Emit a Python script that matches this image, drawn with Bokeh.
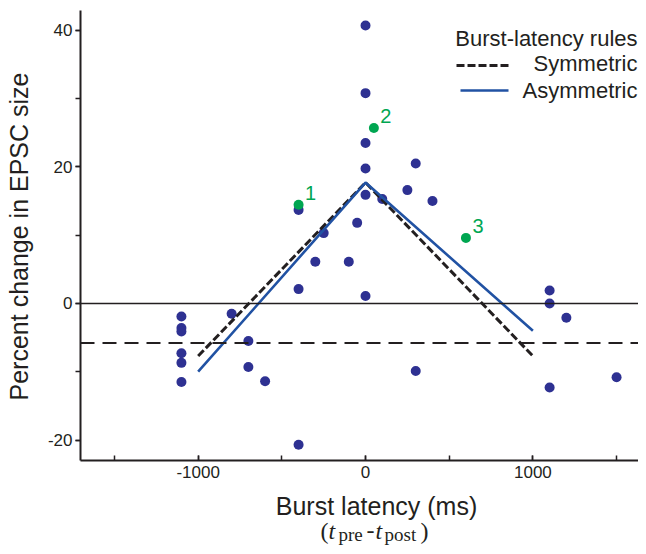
import math
from bokeh.plotting import figure
from bokeh.layouts import column, row
from bokeh.models import (Span, Label, Arrow, SingleIntervalTicker, ColumnDataSource,
                          PrintfTickFormatter, Range1d)
from bokeh.core.properties import value
from bokeh.embed import file_html
from bokeh.resources import INLINE

# ---------------- data ----------------
blue_x = [-1100, -1100, -1100, -1100, -1100, -1100, -800, -700, -700, -600,
          -400, -400, -400, -300, -250, -100, -50, 0, 0, 0, 0, 0, 0,
          100, 250, 300, 300, 400, 1100, 1100, 1100, 1200, 1500]
blue_y = [-1.9, -3.6, -4.1, -7.3, -8.7, -11.5, -1.5, -5.5, -9.3, -11.4,
          13.7, 2.1, -20.7, 6.1, 10.3, 6.1, 11.8, 40.7, 30.8, 23.5, 19.75, 15.9, 1.1,
          15.3, 16.6, 20.5, -9.9, 15.0, 1.9, 0.0, -12.3, -2.1, -10.8]

green_x = [-400, 50, 600]
green_y = [14.45, 25.7, 9.6]
green_labels = ["1", "2", "3"]

sym_x = [-1000, 0, 1000]
sym_y = [-7.7, 17.7, -7.7]
asym_x = [-1000, 0, 1000]
asym_y = [-10.0, 17.7, -4.0]

mean_change = -5.8

legend_title = "Burst-latency rules"
legend_labels = ["Symmetric", "Asymmetric"]
x_label = "Burst latency (ms)"
y_label = "Percent change in EPSC size"

# ---------------- style ----------------
INK = "#231F20"
DOT_BLUE = "#2E3192"
LINE_BLUE = "#2152A3"
GREEN = "#00A651"
SANS = "Liberation Sans"
SERIF = "Liberation Serif"

TOP_H = 490
LEFT_W = 44


def blank(width, height):
    f = figure(width=width, height=height, output_backend="svg", toolbar_location=None,
               x_range=Range1d(0, 1), y_range=Range1d(0, 1),
               x_axis_location=None, y_axis_location=None,
               min_border_left=0, min_border_right=0, min_border_top=0, min_border_bottom=0)
    f.outline_line_color = None
    f.xgrid.visible = False
    f.ygrid.visible = False
    return f


# ---------------- main plot ----------------
p = figure(width=638 - LEFT_W, height=TOP_H, x_range=(-1703, 1631), y_range=(-23.0, 42.9),
           output_backend="svg", toolbar_location=None,
           min_border_left=79 - LEFT_W, min_border_right=0, min_border_top=10,
           min_border_bottom=TOP_H - 460)
p.outline_line_color = None
p.xgrid.visible = False
p.ygrid.visible = False

p.xaxis.ticker = SingleIntervalTicker(interval=1000, num_minor_ticks=2)
p.yaxis.ticker = SingleIntervalTicker(interval=20, num_minor_ticks=2)
for ax in (p.xaxis[0], p.yaxis[0]):
    ax.formatter = PrintfTickFormatter(format="%d")
    ax.axis_line_color = INK
    ax.axis_line_width = 2
    ax.major_tick_line_color = INK
    ax.minor_tick_line_color = INK
    ax.major_tick_line_width = 1.5
    ax.minor_tick_line_width = 1.5
    ax.major_label_text_font = SANS
    ax.major_label_text_font_size = "17px"
    ax.major_label_text_color = INK

p.xaxis.major_tick_in = 5
p.xaxis.major_tick_out = 0
p.xaxis.minor_tick_in = 5
p.xaxis.minor_tick_out = 0
p.xaxis.major_label_standoff = 5

p.yaxis.major_tick_in = 0
p.yaxis.major_tick_out = 5
p.yaxis.minor_tick_in = 0
p.yaxis.minor_tick_out = 5
p.yaxis.major_label_standoff = 3

# reference lines
p.add_layout(Span(location=0, dimension="width", line_color=INK, line_width=1.6))
p.add_layout(Span(location=mean_change, dimension="width", line_color=INK,
                  line_width=2, line_dash="14 8"))

# data points
p.scatter(blue_x, blue_y, size=10, color=DOT_BLUE, line_color=None)
p.scatter(green_x, green_y, size=10, color=GREEN, line_color=None)
gsrc = ColumnDataSource(dict(x=green_x, y=green_y, t=green_labels))
p.text(x="x", y="y", text="t", source=gsrc, x_offset=12, y_offset=-12,
       text_align="center", text_baseline="middle", text_color=GREEN,
       text_font=value(SANS), text_font_size="20px")

# rule lines
p.line(sym_x, sym_y, line_color=INK, line_width=3, line_dash="8 3")
p.line(asym_x, asym_y, line_color=LINE_BLUE, line_width=2.6)

# legend (manual, right-aligned like the original)
lx = 557
for txt, ly in ((legend_title, 422), (legend_labels[0], 397), (legend_labels[1], 370)):
    p.add_layout(Label(x=lx, y=ly, x_units="screen", y_units="screen", text=txt,
                       text_align="right", text_baseline="alphabetic", text_font=SANS,
                       text_font_size="22px", text_color=INK))
p.add_layout(Arrow(start=None, end=None, x_start=376, y_start=395, x_end=428, y_end=395,
                   start_units="screen", end_units="screen",
                   line_color=INK, line_width=3, line_dash="8 3"))
p.add_layout(Arrow(start=None, end=None, x_start=380, y_start=370, x_end=428, y_end=370,
                   start_units="screen", end_units="screen",
                   line_color=LINE_BLUE, line_width=2.6))

# ---------------- left strip: y title ----------------
left = blank(LEFT_W, TOP_H)
left.add_layout(Label(x=18, y=224, x_units="screen", y_units="screen", text=y_label,
                      angle=math.pi / 2, text_align="center", text_baseline="alphabetic",
                      text_font=SANS, text_font_size="25px", text_color=INK))

# ---------------- bottom strip: x title ----------------
BOT_H = 546 - TOP_H
bottom = blank(638, BOT_H)
bottom.add_layout(Label(x=376, y=41, x_units="screen", y_units="screen", text=x_label,
                        text_align="center", text_baseline="alphabetic", text_font=SANS,
                        text_font_size="25px", text_color=INK))
parts = [("(", 320, 16, "24px", "normal"),
         ("t", 328, 16, "24px", "italic"),
         ("pre", 338, 12, "19px", "normal"),
         ("-", 366, 16, "24px", "normal"),
         ("t", 375, 16, "24px", "italic"),
         ("post", 384, 12, "19px", "normal"),
         (")", 420, 16, "24px", "normal")]
for txt, x, y, size, style in parts:
    bottom.add_layout(Label(x=x, y=y, x_units="screen", y_units="screen", text=txt,
                            text_align="left", text_baseline="alphabetic", text_font=SERIF,
                            text_font_size=size, text_font_style=style, text_color=INK))

layout = column(row(left, p, spacing=0), bottom, spacing=0)
open("out.html", "w").write(file_html(layout, INLINE))
